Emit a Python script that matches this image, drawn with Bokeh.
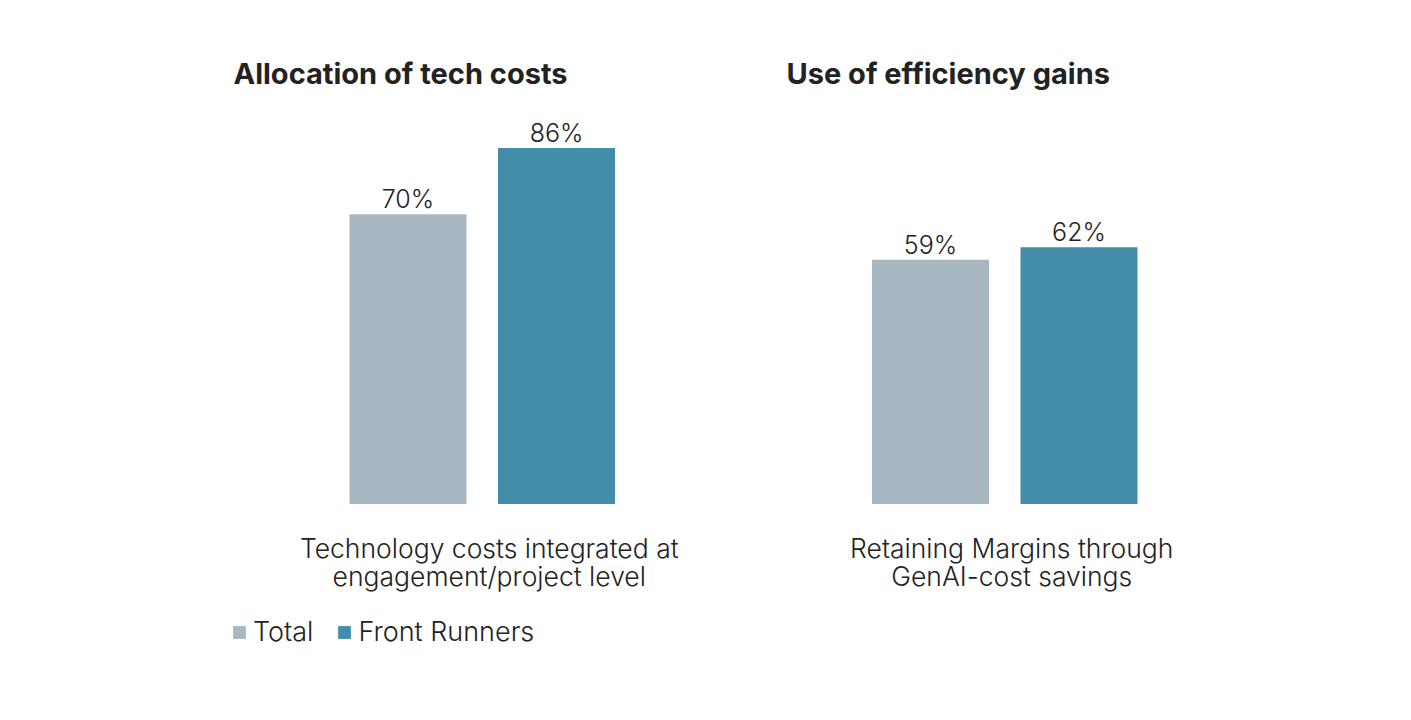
from bokeh.plotting import figure
from bokeh.models import FactorRange, Range1d, Legend, LegendItem, Label, ColumnDataSource
from bokeh.core.properties import value
from bokeh.embed import file_html
from bokeh.resources import INLINE

titles = ["Allocation of tech costs", "Use of efficiency gains"]
groups = ["Technology costs integrated at\nengagement/project level",
          "Retaining Margins through\nGenAI-cost savings"]
series = ["Total", "Front Runners"]
total_vals = [70, 59]
front_vals = [86, 62]
colors = {"Total": "#A8B8C3", "Front Runners": "#428EA9"}

FONT = "Inter"
LIGHT = "Inter Light"
TEXT = "#222222"

factors = [(g, s) for g in groups for s in series]
x_range = FactorRange(*factors, group_padding=1.5185, factor_padding=0.0,
                      range_padding=0.6751, range_padding_units="absolute")

p = figure(width=1411, height=720, x_range=x_range,
           y_range=Range1d(-52.29, 121.62),
           output_backend="svg", toolbar_location=None,
           x_axis_location=None, y_axis_location=None,
           min_border_left=233, min_border_right=158,
           min_border_top=0, min_border_bottom=0)
p.outline_line_color = None
p.xgrid.visible = False
p.ygrid.visible = False
p.background_fill_color = "white"
p.border_fill_color = "white"

renderers = []
for s, vals in (("Total", total_vals), ("Front Runners", front_vals)):
    src = ColumnDataSource(dict(x=[(g, s) for g in groups], top=vals,
                                lbl=[f"{v}%" for v in vals]))
    r = p.vbar(x="x", top="top", bottom=0, width=0.788, source=src,
               fill_color=colors[s], line_color=None)
    renderers.append(r)
    p.text(x="x", y="top", text="lbl", source=src, text_align="center",
           text_baseline="bottom", y_offset=0,
           text_font=value(LIGHT), text_font_size="25px", text_color=TEXT)

cat_src = ColumnDataSource(dict(x=groups, y=[0, 0], t=groups))
p.text(x="x", y="y", text="t", source=cat_src, text_align="center",
       text_baseline="top", x_offset=7, y_offset=27.5, text_line_height=0.9,
       text_font=value(LIGHT), text_font_size="26.5px", text_color=TEXT)

title_x = [0, 553]
for t, tx in zip(titles, title_x):
    p.add_layout(Label(x=tx, y=720 - 73, x_units="screen", y_units="screen",
                       text=t, text_font=FONT, text_font_size="29px",
                       text_font_style="bold", text_color=TEXT,
                       text_baseline="middle", text_align="left"))

legend = Legend(items=[LegendItem(label=s, renderers=[r]) for s, r in zip(series, renderers)],
                orientation="horizontal", location=(-2, 72),
                glyph_width=16, glyph_height=16, label_standoff=6, spacing=23,
                padding=0, margin=0, border_line_color=None,
                background_fill_alpha=0,
                label_text_font=LIGHT, label_text_font_size="27px",
                label_text_color=TEXT)
p.add_layout(legend)

open("out.html", "w").write(file_html(p, INLINE))
